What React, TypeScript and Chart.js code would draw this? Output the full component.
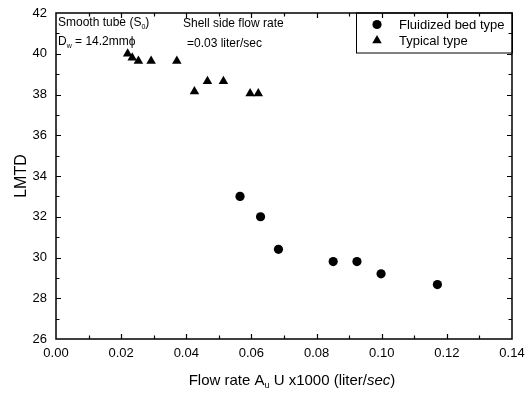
import React, { useEffect, useRef } from 'react';
import { Chart, registerables } from 'chart.js';
Chart.register(...registerables);

// ---- data ----
const fluidizedX = [0.0565, 0.0628, 0.0683, 0.0851, 0.0924, 0.0998, 0.1171];
const fluidizedY = [33.0, 32.0, 30.4, 29.8, 29.8, 29.2, 28.67];
const typicalX = [0.022, 0.0234, 0.0253, 0.0292, 0.0371, 0.0425, 0.0465, 0.0514, 0.0596, 0.0621];
const typicalY = [40.0, 39.8, 39.65, 39.65, 39.65, 38.15, 38.65, 38.65, 38.05, 38.05];
const seriesNames = ['Fluidized bed type', 'Typical type'];
const xMin = 0, xMax = 0.14, xStep = 0.02, xMinorStep = 0.01;
const yMin = 26, yMax = 42, yStep = 2, yMinorStep = 1;

const FONT = '"Liberation Sans", Arial, Helvetica, sans-serif';

type Part = { t: string; s?: 'sub' | 'italic' };

function partFont(size: number, s?: string) {
  if (s === 'sub') return `${Math.round(size * 0.62)}px ${FONT}`;
  if (s === 'italic') return `italic ${size}px ${FONT}`;
  return `${size}px ${FONT}`;
}

function richWidth(ctx: CanvasRenderingContext2D, parts: Part[], size: number) {
  let w = 0;
  for (const p of parts) {
    ctx.font = partFont(size, p.s);
    w += ctx.measureText(p.t).width;
  }
  return w;
}

function drawRich(ctx: CanvasRenderingContext2D, parts: Part[], x: number, y: number, size: number) {
  ctx.textBaseline = 'middle';
  ctx.textAlign = 'left';
  let cx = x;
  for (const p of parts) {
    ctx.font = partFont(size, p.s);
    const dy = p.s === 'sub' ? size * 0.3 : 0;
    ctx.fillText(p.t, cx, y + dy);
    cx += ctx.measureText(p.t).width;
  }
}

function drawMarker(ctx: CanvasRenderingContext2D, style: string, x: number, y: number, r: number) {
  ctx.beginPath();
  if (style === 'circle') {
    ctx.arc(x, y, r, 0, Math.PI * 2);
  } else {
    let rad = 0;
    ctx.moveTo(x + Math.sin(rad) * r, y - Math.cos(rad) * r);
    rad += (2 * Math.PI) / 3;
    ctx.lineTo(x + Math.sin(rad) * r, y - Math.cos(rad) * r);
    rad += (2 * Math.PI) / 3;
    ctx.lineTo(x + Math.sin(rad) * r, y - Math.cos(rad) * r);
    ctx.closePath();
  }
  ctx.fill();
}

const decorPlugin = {
  id: 'decor',
  afterDraw(chart: any) {
    const ctx: CanvasRenderingContext2D = chart.ctx;
    const { left, right, top, bottom } = chart.chartArea;
    const xs = chart.scales.x;
    const ys = chart.scales.y;
    ctx.save();
    ctx.strokeStyle = '#000';
    ctx.fillStyle = '#000';
    ctx.lineWidth = 1.5;
    ctx.strokeRect(left, top, right - left, bottom - top);

    // inward ticks
    ctx.lineWidth = 1.2;
    const nx = Math.round((xMax - xMin) / xMinorStep);
    for (let i = 1; i < nx; i++) {
      const v = xMin + i * xMinorStep;
      const px = Math.round(xs.getPixelForValue(v)) + 0.5;
      const len = i % Math.round(xStep / xMinorStep) === 0 ? 5 : 3.5;
      ctx.beginPath();
      ctx.moveTo(px, bottom);
      ctx.lineTo(px, bottom - len);
      ctx.moveTo(px, top);
      ctx.lineTo(px, top + len);
      ctx.stroke();
    }
    const ny = Math.round((yMax - yMin) / yMinorStep);
    for (let i = 1; i < ny; i++) {
      const v = yMin + i * yMinorStep;
      const py = Math.round(ys.getPixelForValue(v)) + 0.5;
      const len = i % Math.round(yStep / yMinorStep) === 0 ? 5 : 3.5;
      ctx.beginPath();
      ctx.moveTo(left, py);
      ctx.lineTo(left + len, py);
      ctx.moveTo(right, py);
      ctx.lineTo(right - len, py);
      ctx.stroke();
    }

    // axis titles
    const xTitle: Part[] = [
      { t: 'Flow rate A' }, { t: 'u', s: 'sub' }, { t: ' U x1000 (liter/' }, { t: 'sec', s: 'italic' }, { t: ')' },
    ];
    const tw = richWidth(ctx, xTitle, 15);
    drawRich(ctx, xTitle, 292 - tw / 2, 381, 15);

    ctx.save();
    ctx.translate(22, (top + bottom) / 2);
    ctx.rotate(-Math.PI / 2);
    ctx.font = `16px ${FONT}`;
    ctx.textAlign = 'center';
    ctx.textBaseline = 'middle';
    ctx.fillText('LMTD', 0, 0);
    ctx.restore();

    // annotations
    drawRich(ctx, [{ t: 'Smooth tube (S' }, { t: '0', s: 'sub' }, { t: ')' }], left + 2, top + 10, 12);
    drawRich(ctx, [{ t: 'D' }, { t: 'w', s: 'sub' }, { t: ' = 14.2mmϕ' }], left + 2, top + 29, 12);
    drawRich(ctx, [{ t: 'Shell side flow rate' }], 183, top + 11, 12);
    drawRich(ctx, [{ t: '=0.03 liter/sec' }], 187, top + 31, 12);

    // legend
    const lx = 356, ly = top, lw = right - lx, lh = 40;
    ctx.lineWidth = 1;
    ctx.strokeRect(lx + 0.5, ly, lw, lh);
    const styles = ['circle', 'triangle'];
    const radii = [4.6, 5.5];
    seriesNames.forEach((name, i) => {
      const yy = ly + 11.5 + i * 16;
      drawMarker(ctx, styles[i], 377, yy, radii[i]);
      ctx.font = `13px ${FONT}`;
      ctx.textAlign = 'left';
      ctx.textBaseline = 'middle';
      ctx.fillText(name, 399, yy + 0.5);
    });
    ctx.restore();
  },
};

export default function App() {
  const ref = useRef<HTMLCanvasElement | null>(null);
  useEffect(() => {
    document.body.style.margin = '0';
    const canvas = ref.current!;
    const chart = new Chart(canvas, {
      type: 'scatter',
      data: {
        datasets: [
          {
            label: seriesNames[0],
            data: fluidizedX.map((x, i) => ({ x, y: fluidizedY[i] })),
            pointStyle: 'circle',
            pointRadius: 4.6,
            backgroundColor: '#000',
            borderColor: '#000',
            borderWidth: 0,
          },
          {
            label: seriesNames[1],
            data: typicalX.map((x, i) => ({ x, y: typicalY[i] })),
            pointStyle: 'triangle',
            pointRadius: 5.5,
            backgroundColor: '#000',
            borderColor: '#000',
            borderWidth: 0,
          },
        ],
      },
      options: {
        animation: false,
        responsive: false,
        devicePixelRatio: 1,
        layout: { padding: { top: 13, right: 17, left: 0, bottom: 0 } },
        plugins: { legend: { display: false }, tooltip: { enabled: false } },
        font: { family: FONT },
        scales: {
          x: {
            type: 'linear',
            min: xMin,
            max: xMax,
            grid: { display: false, drawTicks: false },
            border: { display: false },
            ticks: {
              stepSize: xStep,
              padding: 7,
              color: '#000',
              font: { family: FONT, size: 13 },
              maxRotation: 0,
              callback: (v: any) => Number(v).toFixed(2),
            },
            afterFit: (s: any) => { s.height = 55; s.paddingLeft = 0; s.paddingRight = 0; },
          },
          y: {
            type: 'linear',
            min: yMin,
            max: yMax,
            grid: { display: false, drawTicks: false },
            border: { display: false },
            ticks: {
              stepSize: yStep,
              padding: 9,
              color: '#000',
              font: { family: FONT, size: 13 },
              callback: (v: any) => String(Math.round(Number(v))),
            },
            afterFit: (s: any) => { s.width = 56; s.paddingTop = 0; s.paddingBottom = 0; },
          },
        },
      } as any,
      plugins: [decorPlugin],
    });
    return () => chart.destroy();
  }, []);
  return (
    <div style={{ width: 529, height: 394, background: '#fff' }}>
      <canvas ref={ref} width={529} height={394} style={{ display: 'block' }} />
    </div>
  );
}
